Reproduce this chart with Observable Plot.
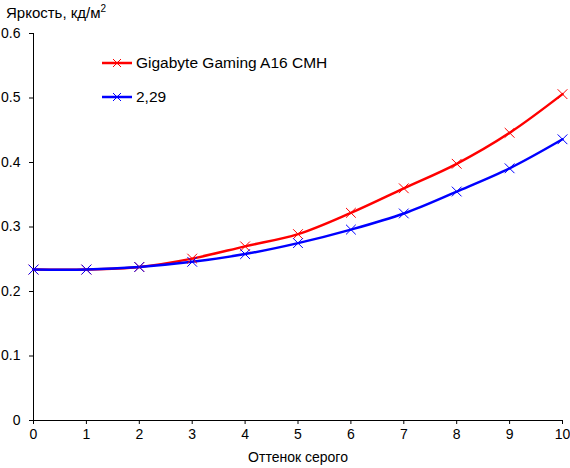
<!DOCTYPE html>
<html>
<head>
<meta charset="utf-8">
<script src="https://cdn.jsdelivr.net/npm/d3@7"></script>
<script src="https://cdn.jsdelivr.net/npm/@observablehq/plot@0.6"></script>
<style>
  body { margin: 0; background: #fff; }
  #chart { position: relative; width: 570px; height: 468px; font-family: "Liberation Sans", Arial, sans-serif; }
  #title { position: absolute; left: 6px; top: 3px; font-size: 15px; color: #000; }
  #title sup { font-size: 10px; }
  .legend { position: absolute; left: 102px; font-size: 15.5px; display: flex; align-items: center; }
  .legend svg { margin-right: 3px; }
</style>
</head>
<body>
<div id="chart">
  <div id="title">Яркость, кд/м<sup>2</sup></div>
</div>
<script>
// Оттенок серого (шаги) и яркость, кд/м2
const steps = [0, 1, 2, 3, 4, 5, 6, 7, 8, 9, 10];
const gigabyte = [0.234, 0.234, 0.238, 0.251, 0.270, 0.289, 0.322, 0.360, 0.398, 0.446, 0.506];
const gamma229 = [0.234, 0.234, 0.238, 0.246, 0.258, 0.275, 0.296, 0.321, 0.355, 0.391, 0.436];
const yTicks = [0, 0.1, 0.2, 0.3, 0.4, 0.5, 0.6];

const series = [
  { name: "Gigabyte Gaming A16 CMH", color: "#ff0000", values: gigabyte },
  { name: "2,29", color: "#0000ff", values: gamma229 }
];

const rows = series.flatMap(s => steps.map((x, i) => ({ series: s.name, x, y: s.values[i] })));

const plot = Plot.plot({
  width: 570,
  height: 468,
  marginLeft: 33,
  marginRight: 8,
  marginTop: 33,
  marginBottom: 48,
  style: { fontFamily: "Liberation Sans, Arial, sans-serif", fontSize: "14px", color: "#000", background: "#fff" },
  x: { domain: [0, 10] },
  y: { domain: [0, 0.6] },
  color: { domain: series.map(s => s.name), range: series.map(s => s.color) },
  marks: [
    Plot.axisX({ ticks: steps, tickSize: 4, tickPadding: 5, label: "Оттенок серого", labelAnchor: "center", labelArrow: "none", labelOffset: 41, fontSize: 14 }),
    Plot.axisY({ ticks: yTicks, tickSize: 4, tickPadding: 9, tickFormat: d => d === 0 ? "0" : d3.format(".1f")(d), label: null, fontSize: 14 }),
    Plot.ruleX([0], { stroke: "#000" }),
    Plot.ruleY([0], { stroke: "#000" }),
    Plot.line(rows, { x: "x", y: "y", z: "series", stroke: "series", strokeWidth: 2.5, curve: "catmull-rom" }),
    Plot.dot(rows, { x: "x", y: "y", stroke: "series", symbol: "times", r: 4.5, strokeWidth: 1 })
  ]
});

const chart = document.getElementById("chart");
chart.insertBefore(plot, chart.firstChild);

// легенда
series.forEach((s, i) => {
  const div = document.createElement("div");
  div.className = "legend";
  div.style.top = (53 + i * 34) + "px";
  div.innerHTML = `<svg width="31" height="20"><line x1="0" x2="30" y1="10" y2="10" stroke="${s.color}" stroke-width="2.5"/>` +
    `<path d="M11,6L19,14M19,6L11,14" stroke="${s.color}" stroke-width="1"/></svg><span>${s.name}</span>`;
  chart.appendChild(div);
});
</script>
</body>
</html>
